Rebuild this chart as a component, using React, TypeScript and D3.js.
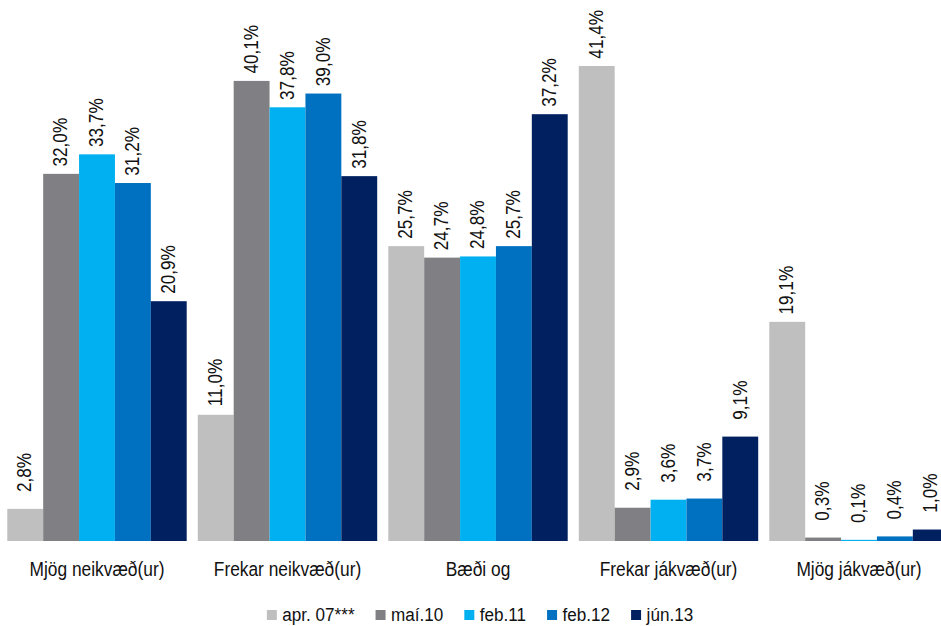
import React, { useEffect, useRef } from "react";
import * as d3 from "d3";

const categories = ["Mjög neikvæð(ur)", "Frekar neikvæð(ur)", "Bæði og", "Frekar jákvæð(ur)", "Mjög jákvæð(ur)"];
const seriesNames = ["apr. 07***", "maí.10", "feb.11", "feb.12", "jún.13"];
const seriesColors = ["#BFBFBF", "#807F83", "#00B0F0", "#0070C0", "#002060"];
const apr07 = [2.8, 11.0, 25.7, 41.4, 19.1];
const mai10 = [32.0, 40.1, 24.7, 2.9, 0.3];
const feb11 = [33.7, 37.8, 24.8, 3.6, 0.1];
const feb12 = [31.2, 39.0, 25.7, 3.7, 0.4];
const jun13 = [20.9, 31.8, 37.2, 9.1, 1.0];
const seriesValues = [apr07, mai10, feb11, feb12, jun13];

const W = 941;
const H = 626;
const FONT = "'Liberation Sans', Arial, sans-serif";

export default function App() {
  const legendRef = useRef<SVGGElement | null>(null);

  const baseY = 541;
  const pxPer = 475 / 41.4;
  const y = d3.scaleLinear().domain([0, 45]).range([baseY, baseY - 45 * pxPer]);
  const step = 190.5;
  const pad = 11.1 / step;
  const x0 = d3
    .scaleBand<string>()
    .domain(categories)
    .range([7.3 - (step * pad) / 2, 7.3 - (step * pad) / 2 + step * categories.length])
    .paddingInner(pad)
    .paddingOuter(pad / 2);
  const x1 = d3.scaleBand<string>().domain(seriesNames).range([0, x0.bandwidth()]).padding(0);

  const fmt = (v: number) => v.toFixed(1).replace(".", ",") + "%";

  const LS = 0.9; // legend horizontal text scale

  useEffect(() => {
    const g = legendRef.current;
    if (!g) return;
    const sel = d3.select(g);
    let x = 0;
    const items = sel.selectAll<SVGGElement, unknown>("g.item").nodes();
    items.forEach((node) => {
      const t = node.querySelector("text") as SVGTextElement;
      const r = node.querySelector("rect") as SVGRectElement;
      r.setAttribute("x", String(x));
      t.setAttribute("transform", `translate(${x + 15.5},620.7) scale(${LS},1)`);
      const w = t.getComputedTextLength() * LS;
      x += 15.5 + w + 21;
    });
    const total = x - 21;
    sel.attr("transform", `translate(${480 - total / 2},0)`);
  }, []);

  return (
    <svg
      width={W}
      height={H}
      style={{ position: "absolute", left: 0, top: 0, background: "#fff" }}
      fontFamily={FONT}
    >
      {seriesValues.map((vals, si) => (
        <g key={seriesNames[si]} fill={seriesColors[si]}>
          {categories.map((c, ci) => {
            const bx = (x0(c) ?? 0) + (x1(seriesNames[si]) ?? 0);
            const top = y(vals[ci]);
            return <rect key={c} x={bx} y={top} width={x1.bandwidth()} height={baseY - top} />;
          })}
        </g>
      ))}
      {seriesValues.map((vals, si) => (
        <g key={"l" + seriesNames[si]}>
          {categories.map((c, ci) => {
            const cx = (x0(c) ?? 0) + (x1(seriesNames[si]) ?? 0) + x1.bandwidth() / 2;
            const top = y(vals[ci]) - 56;
            return (
              <text
                key={c}
                transform={`translate(${cx},${top}) rotate(-90) scale(0.88,1)`}
                textAnchor="end"
                dy="0.32em"
                fontSize={19.5}
                fill="#111"
              >
                {fmt(vals[ci])}
              </text>
            );
          })}
        </g>
      ))}
      {categories.map((c) => (
        <text
          key={c}
          transform={`translate(${(x0(c) ?? 0) + x0.bandwidth() / 2},575.6) scale(0.89,1)`}
          textAnchor="middle"
          fontSize={19.5}
          fill="#111"
        >
          {c}
        </text>
      ))}
      <g ref={legendRef}>
        {seriesNames.map((s, i) => (
          <g className="item" key={s}>
            <rect x={0} y={610} width={10} height={10} fill={seriesColors[i]} />
            <text transform="translate(15.5,620.7)" fontSize={19} fill="#111">
              {s}
            </text>
          </g>
        ))}
      </g>
    </svg>
  );
}
